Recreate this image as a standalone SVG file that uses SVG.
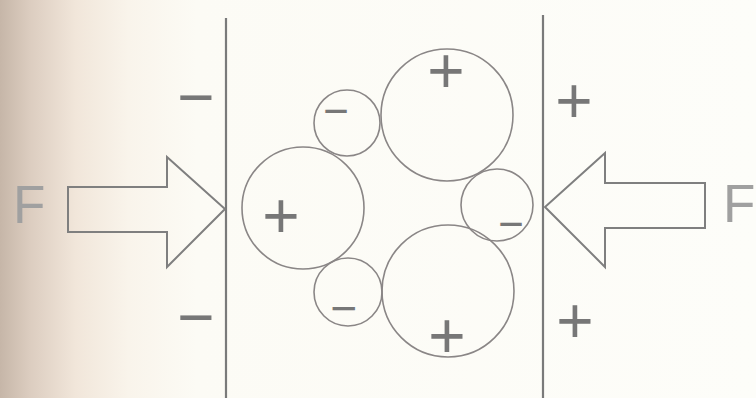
<svg xmlns="http://www.w3.org/2000/svg" width="756" height="398" viewBox="0 0 756 398">
<defs>
<linearGradient id="bg" x1="0" y1="0" x2="1" y2="0">
<stop offset="0" stop-color="#c6b6a8"/>
<stop offset="0.04" stop-color="#dccdc0"/>
<stop offset="0.1" stop-color="#f1e6da"/>
<stop offset="0.17" stop-color="#f9f4eb"/>
<stop offset="0.26" stop-color="#fcfbf5"/>
<stop offset="1" stop-color="#fdfdf9"/>
</linearGradient>
<style>
.ln{stroke:#7a7a7a;stroke-width:2.2;fill:none}
.c{stroke:#8a8686;stroke-width:1.6;fill:none}
.ar{stroke:#7f7f7f;stroke-width:2;fill:none;stroke-linejoin:miter}
.s{font-family:"Liberation Sans",Arial,sans-serif;fill:#777;text-anchor:middle}
.f{font-family:"Liberation Sans",Arial,sans-serif;fill:#a0a0a0;font-size:53px}
</style>
</defs>
<rect width="756" height="398" fill="url(#bg)"/>
<g id="plates">
<line class="ln" x1="226" y1="18" x2="226" y2="398"/>
<line class="ln" x1="543" y1="15" x2="543" y2="398"/>
</g>
<g id="connectors">
<path id="arrow-left" class="ar" d="M68,187 H167 V157 L225,209 L167,267 V232 H68 Z"/>
<path id="arrow-right" class="ar" d="M705,183 H605 V153 L545,207 L605,267 V228 H705 Z"/>
</g>
<g id="c-top-big"><circle class="c" cx="447" cy="115" r="66"/><text class="s" x="446" y="93" font-size="64">+</text></g>
<g id="c-top-small"><circle class="c" cx="347" cy="123" r="33"/><text class="s" x="336" y="126" font-size="44">−</text></g>
<g id="c-left-big"><circle class="c" cx="303" cy="208" r="61"/><text class="s" x="281" y="238" font-size="64">+</text></g>
<g id="c-right-small"><circle class="c" cx="497" cy="205" r="36"/><text class="s" x="511" y="239" font-size="44">−</text></g>
<g id="c-bottom-small"><circle class="c" cx="348" cy="292" r="34"/><text class="s" x="344" y="324" font-size="46">−</text></g>
<g id="c-bottom-big"><circle class="c" cx="448" cy="291" r="66"/><text class="s" x="447" y="358" font-size="64">+</text></g>
<g id="labels">
<text class="s" x="196" y="119" font-size="64">−</text>
<text class="s" x="196" y="339" font-size="64">−</text>
<text class="s" x="574" y="123" font-size="64">+</text>
<text class="s" x="575" y="343" font-size="64">+</text>
<text class="f" x="13" y="223">F</text>
<text class="f" x="723" y="222">F</text>
</g>
</svg>
